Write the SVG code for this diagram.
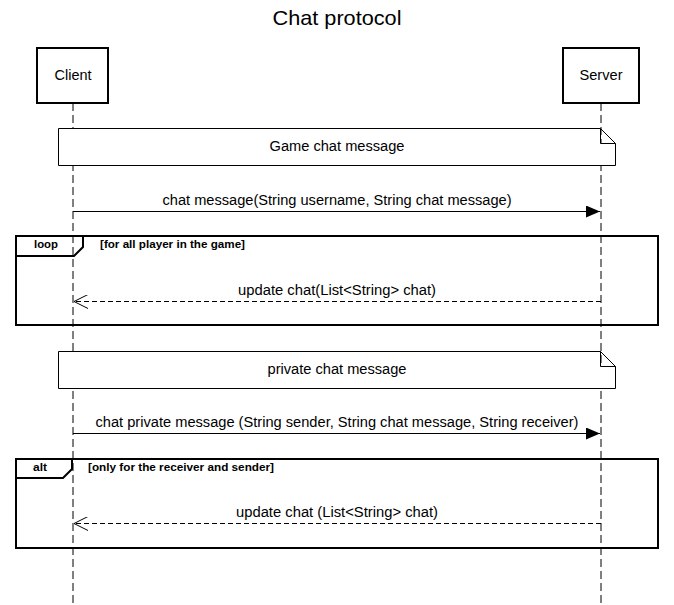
<svg xmlns="http://www.w3.org/2000/svg" width="674" height="605" viewBox="0 0 674 605">
<style>
text{font-family:"Liberation Sans",Arial,sans-serif;fill:#000}
.t{font-size:14px;text-anchor:middle}
.title{font-size:21px;text-anchor:middle}
.b{font-size:11px;font-weight:bold}
.box{fill:#fff;stroke:#000;stroke-width:2}
.life{stroke:#000;stroke-width:1;stroke-dasharray:8 4;fill:none}
.note{fill:#fff;stroke:#000;stroke-width:1}
.frame{fill:none;stroke:#000;stroke-width:2}
.msg{stroke:#000;stroke-width:1;fill:none}
.ret{stroke:#000;stroke-width:1;fill:none;stroke-dasharray:5 3}
</style>
<defs>
<marker id="fill" viewBox="0 0 14 12" refX="14" refY="6" markerWidth="14" markerHeight="12" markerUnits="userSpaceOnUse" orient="auto">
<path d="M0,0 L14,6 L0,12 Z" fill="#000"/>
</marker>
<marker id="open" viewBox="0 0 14 14" refX="14" refY="7" markerWidth="14" markerHeight="14" markerUnits="userSpaceOnUse" orient="auto">
<path d="M0,0 L14,7 L0,14" fill="none" stroke="#000" stroke-width="1"/>
</marker>
</defs>
<rect width="674" height="605" fill="#fff"/>
<text class="title" x="337" y="25" textLength="129" lengthAdjust="spacingAndGlyphs">Chat protocol</text>
<g id="client">
<line class="life" x1="73" y1="103" x2="73" y2="605"/>
<rect class="box" x="37" y="48" width="71" height="55"/>
<text class="t" x="73" y="80" textLength="37" lengthAdjust="spacingAndGlyphs">Client</text>
</g>
<g id="server">
<line class="life" x1="601" y1="103" x2="601" y2="605"/>
<rect class="box" x="563" y="48" width="76" height="55"/>
<text class="t" x="601" y="80" textLength="43" lengthAdjust="spacingAndGlyphs">Server</text>
</g>
<g id="note1">
<path class="note" d="M58.5,128.5 H600.5 L615.5,143.5 V165.5 H58.5 Z M600.5,128.5 V143.5 H615.5"/>
<text class="t" x="337" y="151" textLength="135" lengthAdjust="spacingAndGlyphs">Game chat message</text>
</g>
<g id="loop">
<rect class="frame" x="16" y="236" width="642" height="89"/>
<path class="frame" d="M16,256 H74 L83,247 V236"/>
<text class="b" x="46" y="248" text-anchor="middle" textLength="24" lengthAdjust="spacingAndGlyphs">loop</text>
<text class="b" x="100" y="248" textLength="145" lengthAdjust="spacingAndGlyphs">[for all player in the game]</text>
</g>
<g id="note2">
<path class="note" d="M58.5,351.5 H600.5 L615.5,366.5 V388.5 H58.5 Z M600.5,351.5 V366.5 H615.5"/>
<text class="t" x="337" y="374" textLength="139" lengthAdjust="spacingAndGlyphs">private chat message</text>
</g>
<g id="alt">
<rect class="frame" x="16" y="459" width="642" height="89"/>
<path class="frame" d="M16,478 H63 L72,469 V459"/>
<text class="b" x="40" y="471" text-anchor="middle" textLength="14" lengthAdjust="spacingAndGlyphs">alt</text>
<text class="b" x="88" y="471" textLength="186" lengthAdjust="spacingAndGlyphs">[only for the receiver and sender]</text>
</g>
<g id="connectors">
<line class="msg" x1="73" y1="211.5" x2="600" y2="211.5" marker-end="url(#fill)"/>
<text class="t" x="337" y="205" textLength="349" lengthAdjust="spacingAndGlyphs">chat message(String username, String chat message)</text>
<line class="ret" x1="601" y1="301.5" x2="74" y2="301.5" marker-end="url(#open)"/>
<text class="t" x="337" y="295" textLength="198" lengthAdjust="spacingAndGlyphs">update chat(List&lt;String&gt; chat)</text>
<line class="msg" x1="73" y1="433.5" x2="600" y2="433.5" marker-end="url(#fill)"/>
<text class="t" x="337" y="427" textLength="483" lengthAdjust="spacingAndGlyphs">chat private message (String sender, String chat message, String receiver)</text>
<line class="ret" x1="601" y1="523.5" x2="74" y2="523.5" marker-end="url(#open)"/>
<text class="t" x="337" y="517" textLength="202" lengthAdjust="spacingAndGlyphs">update chat (List&lt;String&gt; chat)</text>
</g>
</svg>
